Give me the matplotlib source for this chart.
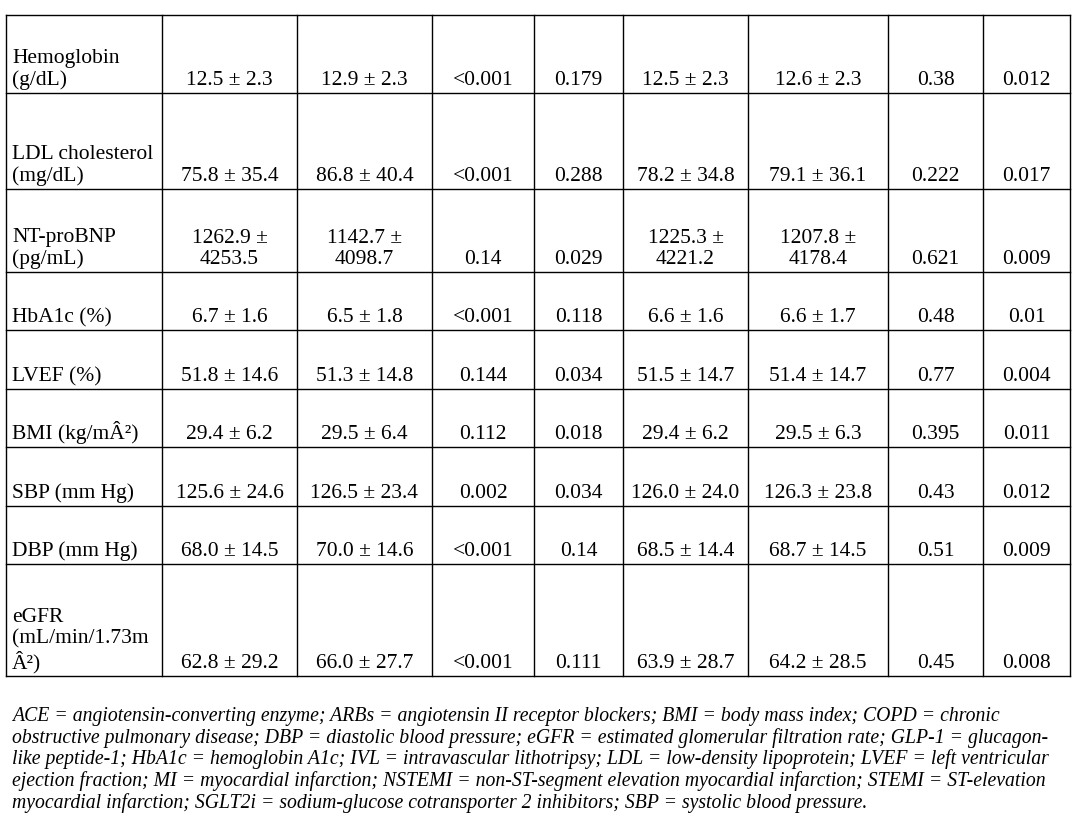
import matplotlib.pyplot as plt

plt.rcParams["font.family"] = ["Liberation Serif", "DejaVu Serif"]

row_labels = ["Hemoglobin\n(g/dL)", "LDL cholesterol\n(mg/dL)", "NT-proBNP\n(pg/mL)",
              "HbA1c (%)", "LVEF (%)", "BMI (kg/mÂ²)", "SBP (mm Hg)", "DBP (mm Hg)",
              "eGFR\n(mL/min/1.73m\nÂ²)"]
col1 = ["12.5 ± 2.3", "75.8 ± 35.4", "1262.9 ±\n4253.5", "6.7 ± 1.6", "51.8 ± 14.6",
        "29.4 ± 6.2", "125.6 ± 24.6", "68.0 ± 14.5", "62.8 ± 29.2"]
col2 = ["12.9 ± 2.3", "86.8 ± 40.4", "1142.7 ±\n4098.7", "6.5 ± 1.8", "51.3 ± 14.8",
        "29.5 ± 6.4", "126.5 ± 23.4", "70.0 ± 14.6", "66.0 ± 27.7"]
col3 = ["<0.001", "<0.001", "0.14", "<0.001", "0.144", "0.112", "0.002", "<0.001", "<0.001"]
col4 = ["0.179", "0.288", "0.029", "0.118", "0.034", "0.018", "0.034", "0.14", "0.111"]
col5 = ["12.5 ± 2.3", "78.2 ± 34.8", "1225.3 ±\n4221.2", "6.6 ± 1.6", "51.5 ± 14.7",
        "29.4 ± 6.2", "126.0 ± 24.0", "68.5 ± 14.4", "63.9 ± 28.7"]
col6 = ["12.6 ± 2.3", "79.1 ± 36.1", "1207.8 ±\n4178.4", "6.6 ± 1.7", "51.4 ± 14.7",
        "29.5 ± 6.3", "126.3 ± 23.8", "68.7 ± 14.5", "64.2 ± 28.5"]
col7 = ["0.38", "0.222", "0.621", "0.48", "0.77", "0.395", "0.43", "0.51", "0.45"]
col8 = ["0.012", "0.017", "0.009", "0.01", "0.004", "0.011", "0.012", "0.009", "0.008"]

footnote = ("ACE = angiotensin-converting enzyme; ARBs = angiotensin II receptor blockers; BMI = body mass index; COPD = chronic\n"
            "obstructive pulmonary disease; DBP = diastolic blood pressure; eGFR = estimated glomerular filtration rate; GLP-1 = glucagon-\n"
            "like peptide-1; HbA1c = hemoglobin A1c; IVL = intravascular lithotripsy; LDL = low-density lipoprotein; LVEF = left ventricular\n"
            "ejection fraction; MI = myocardial infarction; NSTEMI = non-ST-segment elevation myocardial infarction; STEMI = ST-elevation\n"
            "myocardial infarction; SGLT2i = sodium-glucose cotransporter 2 inhibitors; SBP = systolic blood pressure.")

# layout in pixels
col_x = [6, 162, 297, 432, 534, 623, 748, 888, 983, 1070]
row_y = [15, 93, 189, 272, 330, 389, 447, 506, 564, 676]

fig = plt.figure(figsize=(10.78, 8.38), dpi=100)
ax = fig.add_axes([0, 0, 1, 1])
ax.set_xlim(0, 1078)
ax.set_ylim(838, 0)
ax.axis("off")

for x in col_x:
    ax.plot([x, x], [row_y[0], row_y[-1]], color="black", lw=1)
for y in row_y:
    ax.plot([col_x[0], col_x[-1]], [y, y], color="black", lw=1)

cols = [col1, col2, col3, col4, col5, col6, col7, col8]
fs = 15.5
for i, lab in enumerate(row_labels):
    yb = row_y[i + 1] - 8
    ax.text(12, yb, lab, ha="left", va="baseline", fontsize=fs, linespacing=1.12)
    for j, c in enumerate(cols):
        xc = (col_x[j + 1] + col_x[j + 2]) / 2
        ax.text(xc, yb, c[i], ha="center", va="baseline", fontsize=fs,
                linespacing=1.12, multialignment="center")

ax.text(12, 707, footnote, ha="left", va="top", fontsize=14.2, style="italic",
        linespacing=1.12)

fig.savefig("out.png", dpi=100)
